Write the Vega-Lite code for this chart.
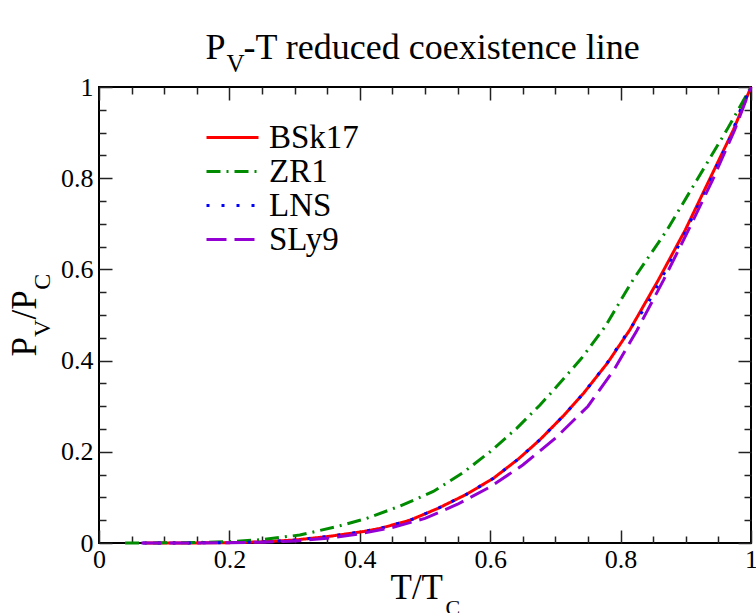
{
  "$schema": "https://vega.github.io/schema/vega-lite/v6.json",
  "width": 652,
  "height": 456,
  "autosize": {"type": "none"},
  "padding": {"left": 99, "top": 87, "right": 5, "bottom": 70},
  "background": "white",
  "config": {
    "font": "Liberation Serif",
    "view": {"stroke": "black", "strokeWidth": 2},
    "axis": {
      "domain": false,
      "labelFont": "Liberation Serif", "titleFont": "Liberation Serif",
      "labelColor": "black", "titleColor": "black", "titleFontWeight": "normal",
      "labelFlush": false, "labelOverlap": false,
      "gridColor": "#222222", "gridWidth": 1.5, "gridOpacity": 1
    },
    "legend": {"labelFont": "Liberation Serif", "labelColor": "black"}
  },
  "data": {"values": [
    {"model": "BSk17", "x": 0.07, "y": 0},
    {"model": "BSk17", "x": 0.1, "y": 0},
    {"model": "BSk17", "x": 0.15, "y": 0.0002},
    {"model": "BSk17", "x": 0.2, "y": 0.0008},
    {"model": "BSk17", "x": 0.25, "y": 0.0025},
    {"model": "BSk17", "x": 0.3, "y": 0.0065},
    {"model": "BSk17", "x": 0.35, "y": 0.014},
    {"model": "BSk17", "x": 0.405, "y": 0.025},
    {"model": "BSk17", "x": 0.431, "y": 0.032},
    {"model": "BSk17", "x": 0.477, "y": 0.05},
    {"model": "BSk17", "x": 0.52, "y": 0.076},
    {"model": "BSk17", "x": 0.564, "y": 0.107},
    {"model": "BSk17", "x": 0.605, "y": 0.142},
    {"model": "BSk17", "x": 0.643, "y": 0.184},
    {"model": "BSk17", "x": 0.676, "y": 0.226},
    {"model": "BSk17", "x": 0.712, "y": 0.2785},
    {"model": "BSk17", "x": 0.743, "y": 0.328},
    {"model": "BSk17", "x": 0.78, "y": 0.395},
    {"model": "BSk17", "x": 0.814, "y": 0.467},
    {"model": "BSk17", "x": 0.858, "y": 0.577},
    {"model": "BSk17", "x": 0.899, "y": 0.686},
    {"model": "BSk17", "x": 0.936, "y": 0.796},
    {"model": "BSk17", "x": 0.973, "y": 0.906},
    {"model": "BSk17", "x": 1.0, "y": 1.0},

    {"model": "ZR1", "x": 0.04, "y": 0},
    {"model": "ZR1", "x": 0.1, "y": 0.0003},
    {"model": "ZR1", "x": 0.15, "y": 0.001},
    {"model": "ZR1", "x": 0.2, "y": 0.003},
    {"model": "ZR1", "x": 0.25, "y": 0.0075},
    {"model": "ZR1", "x": 0.308, "y": 0.0175},
    {"model": "ZR1", "x": 0.3645, "y": 0.0358},
    {"model": "ZR1", "x": 0.4106, "y": 0.054},
    {"model": "ZR1", "x": 0.4617, "y": 0.081},
    {"model": "ZR1", "x": 0.5127, "y": 0.113},
    {"model": "ZR1", "x": 0.559, "y": 0.155},
    {"model": "ZR1", "x": 0.5997, "y": 0.2},
    {"model": "ZR1", "x": 0.6406, "y": 0.2515},
    {"model": "ZR1", "x": 0.6764, "y": 0.3026},
    {"model": "ZR1", "x": 0.702, "y": 0.343},
    {"model": "ZR1", "x": 0.74, "y": 0.405},
    {"model": "ZR1", "x": 0.776, "y": 0.474},
    {"model": "ZR1", "x": 0.819, "y": 0.577},
    {"model": "ZR1", "x": 0.871, "y": 0.686},
    {"model": "ZR1", "x": 0.917, "y": 0.796},
    {"model": "ZR1", "x": 0.963, "y": 0.906},
    {"model": "ZR1", "x": 1.0, "y": 1.0},

    {"model": "LNS", "x": 0.067, "y": 0},
    {"model": "LNS", "x": 0.1, "y": 0},
    {"model": "LNS", "x": 0.15, "y": 0.0002},
    {"model": "LNS", "x": 0.2, "y": 0.0008},
    {"model": "LNS", "x": 0.25, "y": 0.0025},
    {"model": "LNS", "x": 0.3, "y": 0.0065},
    {"model": "LNS", "x": 0.35, "y": 0.014},
    {"model": "LNS", "x": 0.405, "y": 0.025},
    {"model": "LNS", "x": 0.431, "y": 0.032},
    {"model": "LNS", "x": 0.477, "y": 0.05},
    {"model": "LNS", "x": 0.52, "y": 0.076},
    {"model": "LNS", "x": 0.564, "y": 0.107},
    {"model": "LNS", "x": 0.605, "y": 0.142},
    {"model": "LNS", "x": 0.643, "y": 0.184},
    {"model": "LNS", "x": 0.676, "y": 0.226},
    {"model": "LNS", "x": 0.712, "y": 0.2785},
    {"model": "LNS", "x": 0.743, "y": 0.328},
    {"model": "LNS", "x": 0.78, "y": 0.396},
    {"model": "LNS", "x": 0.814, "y": 0.469},
    {"model": "LNS", "x": 0.84, "y": 0.521},
    {"model": "LNS", "x": 0.863, "y": 0.581},
    {"model": "LNS", "x": 0.885, "y": 0.641},
    {"model": "LNS", "x": 0.906, "y": 0.702},
    {"model": "LNS", "x": 0.927, "y": 0.763},
    {"model": "LNS", "x": 0.947, "y": 0.825},
    {"model": "LNS", "x": 0.968, "y": 0.888},
    {"model": "LNS", "x": 0.984, "y": 0.951},
    {"model": "LNS", "x": 1.0, "y": 1.0},

    {"model": "SLy9", "x": 0.065, "y": 0},
    {"model": "SLy9", "x": 0.1, "y": 0},
    {"model": "SLy9", "x": 0.15, "y": 0.0001},
    {"model": "SLy9", "x": 0.2, "y": 0.0005},
    {"model": "SLy9", "x": 0.25, "y": 0.0017},
    {"model": "SLy9", "x": 0.3, "y": 0.0045},
    {"model": "SLy9", "x": 0.35, "y": 0.0105},
    {"model": "SLy9", "x": 0.4, "y": 0.02},
    {"model": "SLy9", "x": 0.45, "y": 0.034},
    {"model": "SLy9", "x": 0.5, "y": 0.054},
    {"model": "SLy9", "x": 0.55, "y": 0.085},
    {"model": "SLy9", "x": 0.6, "y": 0.123},
    {"model": "SLy9", "x": 0.65, "y": 0.171},
    {"model": "SLy9", "x": 0.7, "y": 0.23},
    {"model": "SLy9", "x": 0.75, "y": 0.3},
    {"model": "SLy9", "x": 0.79, "y": 0.38},
    {"model": "SLy9", "x": 0.825, "y": 0.466},
    {"model": "SLy9", "x": 0.866, "y": 0.577},
    {"model": "SLy9", "x": 0.904, "y": 0.686},
    {"model": "SLy9", "x": 0.941, "y": 0.796},
    {"model": "SLy9", "x": 0.975, "y": 0.906},
    {"model": "SLy9", "x": 1.0, "y": 1.0}
  ]},
  "layer": [
    {
      "mark": {"type": "line", "strokeWidth": 3, "clip": false},
      "encoding": {
        "x": {"field": "x", "type": "quantitative",
          "scale": {"domain": [0, 1], "nice": false, "zero": false},
          "axis": {"orient": "bottom", "values": [0, 0.2, 0.4, 0.6, 0.8, 1], "format": "~g", "ticks": false,
            "grid": true, "gridDash": [13, 1000],
            "labelFont": "Liberation Serif", "labelFontSize": 26, "labelPadding": 3,
            "title": "T/T", "titleFontSize": 35, "titleX": 291, "titleY": 55,
            "titleAlign": "left", "titleBaseline": "alphabetic", "titleAngle": 0}},
        "y": {"field": "y", "type": "quantitative",
          "scale": {"domain": [0, 1], "nice": false, "zero": false},
          "axis": {"orient": "left", "values": [0, 0.2, 0.4, 0.6, 0.8, 1], "format": "~g", "ticks": false,
            "grid": true, "gridDash": [13, 1000],
            "labelFont": "Liberation Serif", "labelFontSize": 26, "labelPadding": 6,
            "title": "P\u00a0\u00a0/P", "titleFontSize": 35, "titleAngle": 270, "titleX": -64, "titleY": 269,
            "titleAlign": "left", "titleBaseline": "alphabetic"}},
        "color": {"field": "model", "type": "nominal",
          "scale": {"domain": ["BSk17", "ZR1", "LNS", "SLy9"], "range": ["#ff0000", "#008b00", "#0000ff", "#9400d3"]},
          "legend": {"orient": "none", "legendX": 117, "legendY": 34, "title": null,
            "labelFont": "Liberation Serif", "labelFontSize": 33, "labelColor": "black",
            "symbolType": "M-2,0H2", "symbolSize": 676, "symbolStrokeWidth": 3,
            "labelOffset": 20, "rowPadding": 0, "padding": 0, "offset": 0}},
        "strokeDash": {"field": "model", "type": "nominal",
          "scale": {"domain": ["BSk17", "ZR1", "LNS", "SLy9"], "range": [[1, 0], [14, 6, 2, 6], [3, 12], [20, 8]]},
          "legend": {"orient": "none", "legendX": 117, "legendY": 34, "title": null,
            "labelFont": "Liberation Serif", "labelFontSize": 33, "labelColor": "black",
            "symbolType": "M-2,0H2", "symbolSize": 676, "symbolStrokeWidth": 3,
            "labelOffset": 20, "rowPadding": 0, "padding": 0, "offset": 0}}
      }
    },
    {
      "mark": {"type": "line", "strokeWidth": 0, "strokeOpacity": 0},
      "encoding": {
        "x": {"field": "x", "type": "quantitative",
          "scale": {"domain": [0, 1], "nice": false, "zero": false},
          "axis": {"orient": "bottom", "values": [0.05, 0.1, 0.15, 0.25, 0.3, 0.35, 0.45, 0.5, 0.55, 0.65, 0.7, 0.75, 0.85, 0.9, 0.95],
            "labels": false, "ticks": false, "grid": true, "gridDash": [7, 1000],
            "title": "C", "titleFontSize": 22, "titleX": 346, "titleY": 71,
            "titleAlign": "left", "titleBaseline": "alphabetic", "titleAngle": 0}},
        "y": {"field": "y", "type": "quantitative",
          "scale": {"domain": [0, 1], "nice": false, "zero": false},
          "axis": {"orient": "left", "values": [0.05, 0.1, 0.15, 0.25, 0.3, 0.35, 0.45, 0.5, 0.55, 0.65, 0.7, 0.75, 0.85, 0.9, 0.95],
            "labels": false, "ticks": false, "grid": true, "gridDash": [7, 1000],
            "title": "V\u00a0\u00a0\u00a0\u00a0\u00a0C", "titleFontSize": 24, "titleAngle": 270, "titleX": -50, "titleY": 249.5,
            "titleAlign": "left", "titleBaseline": "alphabetic"}},
        "detail": {"field": "model"}
      }
    },
    {
      "mark": {"type": "line", "strokeWidth": 0, "strokeOpacity": 0},
      "encoding": {
        "x": {"field": "x", "type": "quantitative",
          "scale": {"domain": [0, 1], "nice": false, "zero": false},
          "axis": {"orient": "top", "values": [0, 0.2, 0.4, 0.6, 0.8, 1], "labels": false, "ticks": false,
            "grid": true, "gridDash": [13, 1000],
            "title": "P\u00a0\u00a0-T reduced coexistence line", "titleFontSize": 36, "titleX": 106, "titleY": -29,
            "titleAlign": "left", "titleBaseline": "alphabetic", "titleAngle": 0}},
        "y": {"field": "y", "type": "quantitative",
          "scale": {"domain": [0, 1], "nice": false, "zero": false},
          "axis": {"orient": "right", "values": [0, 0.2, 0.4, 0.6, 0.8, 1], "labels": false, "ticks": false,
            "grid": true, "gridDash": [13, 1000], "title": null}},
        "detail": {"field": "model"}
      }
    },
    {
      "mark": {"type": "line", "strokeWidth": 0, "strokeOpacity": 0},
      "encoding": {
        "x": {"field": "x", "type": "quantitative",
          "scale": {"domain": [0, 1], "nice": false, "zero": false},
          "axis": {"orient": "top", "values": [0.05, 0.1, 0.15, 0.25, 0.3, 0.35, 0.45, 0.5, 0.55, 0.65, 0.7, 0.75, 0.85, 0.9, 0.95],
            "labels": false, "ticks": false, "grid": true, "gridDash": [7, 1000],
            "title": "V", "titleFontSize": 25, "titleX": 127, "titleY": -16,
            "titleAlign": "left", "titleBaseline": "alphabetic", "titleAngle": 0}},
        "y": {"field": "y", "type": "quantitative",
          "scale": {"domain": [0, 1], "nice": false, "zero": false},
          "axis": {"orient": "right", "values": [0.05, 0.1, 0.15, 0.25, 0.3, 0.35, 0.45, 0.5, 0.55, 0.65, 0.7, 0.75, 0.85, 0.9, 0.95],
            "labels": false, "ticks": false, "grid": true, "gridDash": [7, 1000], "title": null}},
        "detail": {"field": "model"}
      }
    }
  ],
  "resolve": {"axis": {"x": "independent", "y": "independent"}}
}
